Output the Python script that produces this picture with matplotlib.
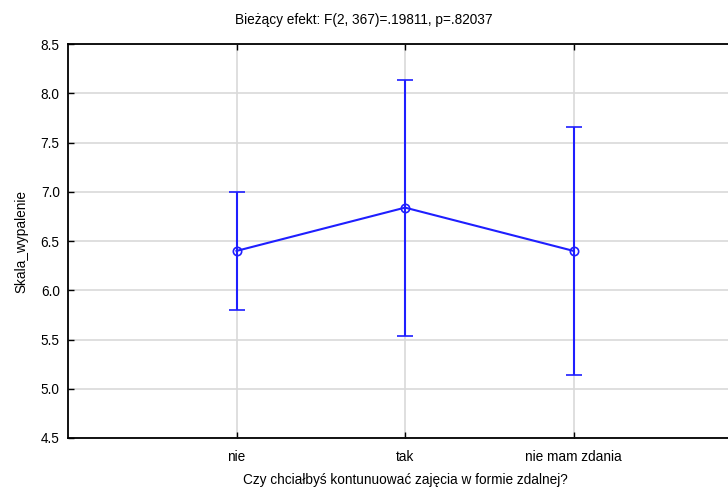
import numpy as np
import matplotlib.pyplot as plt

plt.rcParams['font.family'] = ['Liberation Sans', 'DejaVu Sans']

categories = ['nie', 'tak', 'nie mam zdania']
means = [6.40, 6.84, 6.40]
ci_half = [0.595, 1.30, 1.26]
yticks = [4.5, 5.0, 5.5, 6.0, 6.5, 7.0, 7.5, 8.0, 8.5]

blue = '#1f1fff'

fig = plt.figure(figsize=(7.28, 4.91), dpi=100)
ax = fig.add_axes([0.0934, 0.108, 0.926, 0.802])

x = np.arange(1, len(categories) + 1)
ax.errorbar(x, means, yerr=ci_half, color=blue, lw=1.5, capsize=6,
            capthick=1.5, marker='o', ms=6, mfc='none', mec=blue, mew=1.2,
            zorder=3)

ax.set_xlim(0, 4)
ax.set_ylim(4.5, 8.5)
ax.set_xticks(x)
ax.set_xticklabels(categories)
ax.set_yticks(yticks)
ax.set_yticklabels([f'{v:.1f}' for v in yticks])
ax.grid(True, color='#d9d9d9', lw=1.2, zorder=0)
ax.tick_params(direction='in', length=4, width=1, labelsize=9.8, top=True)
ax.tick_params(axis='x', pad=8.5)
ax.tick_params(axis='y', pad=6)
for s in ax.spines.values():
    s.set_linewidth(1.3)

ax.set_xlabel('Czy chciałbyś kontunuować zajęcia w formie zdalnej?',
              fontsize=9.8, labelpad=7)
ax.set_ylabel('Skala_wypalenie', fontsize=9.8, labelpad=9)
fig.text(0.5, 0.96, 'Bieżący efekt: F(2, 367)=.19811, p=.82037',
         ha='center', va='center', fontsize=9.8)

fig.savefig('out.png', dpi=100)
